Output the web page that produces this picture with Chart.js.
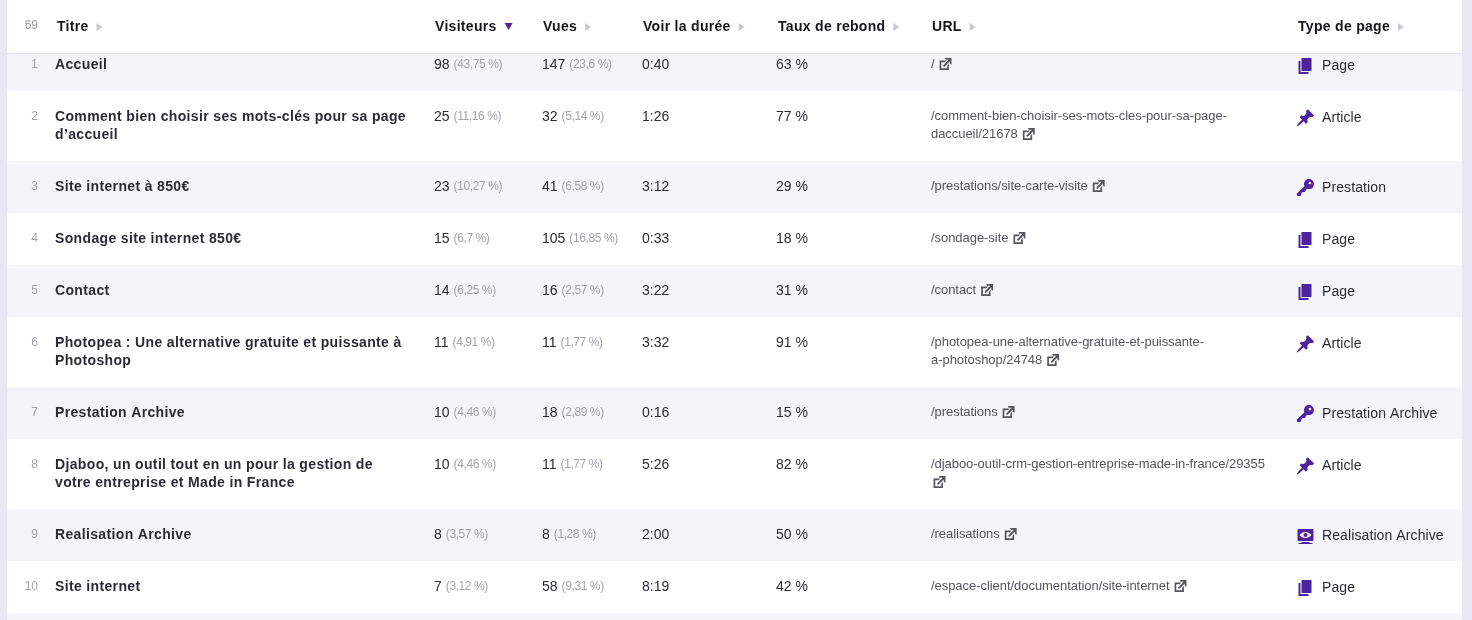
<!DOCTYPE html>
<html lang="fr"><head><meta charset="utf-8"><title>Pages</title>
<script src="https://cdn.jsdelivr.net/npm/chart.js@4"></script>
<style>html,body{margin:0;padding:0;background:#e9e7f3;overflow:hidden}canvas{display:block}</style>
</head><body><canvas id="c" width="1472" height="620"></canvas>
<script>
const totalRows = '69';
const headers = ['Titre','Visiteurs','Vues','Voir la durée','Taux de rebond','URL','Type de page'];
const titles = [['Accueil'],['Comment bien choisir ses mots-clés pour sa page','d’accueil'],['Site internet à 850€'],['Sondage site internet 850€'],['Contact'],['Photopea : Une alternative gratuite et puissante à','Photoshop'],['Prestation Archive'],['Djaboo, un outil tout en un pour la gestion de','votre entreprise et Made in France'],['Realisation Archive'],['Site internet']];
const visitors = [98,25,23,15,14,11,10,10,8,7];
const visitorsPct = ['43,75 %','11,16 %','10,27 %','6,7 %','6,25 %','4,91 %','4,46 %','4,46 %','3,57 %','3,12 %'];
const views = [147,32,41,105,16,11,18,11,8,58];
const viewsPct = ['23,6 %','5,14 %','6,58 %','16,85 %','2,57 %','1,77 %','2,89 %','1,77 %','1,28 %','9,31 %'];
const durations = ['0:40','1:26','3:12','0:33','3:22','3:32','0:16','5:26','2:00','8:19'];
const bounce = ['63 %','77 %','29 %','18 %','31 %','91 %','15 %','82 %','50 %','42 %'];
const urls = [['/'],['/comment-bien-choisir-ses-mots-cles-pour-sa-page-','daccueil/21678'],['/prestations/site-carte-visite'],['/sondage-site'],['/contact'],['/photopea-une-alternative-gratuite-et-puissante-','a-photoshop/24748'],['/prestations'],['/djaboo-outil-crm-gestion-entreprise-made-in-france/29355',''],['/realisations'],['/espace-client/documentation/site-internet']];
const types = ['Page','Article','Prestation','Page','Page','Article','Prestation Archive','Article','Realisation Archive','Page'];

const FONT = '"Liberation Sans", Arial, sans-serif';
const INK = '#2c2b35', GREY = '#a3a2ab', PURPLE = '#4e249e', ARROW = '#c9c9cf';
const ICONS = {
  'Page':'M6 15V2h10v13H6zm-1 1h8v2H3V5h2v11z',
  'Article':'M10.44 3.02l1.82-1.82 6.36 6.35-1.83 1.82c-1.05-.68-2.48-.57-3.41.36l-.75.75c-.92.93-1.04 2.35-.35 3.41l-1.83 1.82-2.41-2.41-2.8 2.79c-.42.42-3.38 2.71-3.8 2.29s1.86-3.39 2.28-3.81l2.79-2.79L4.1 9.36l1.83-1.82c1.05.69 2.48.57 3.4-.36l.75-.75c.93-.92 1.05-2.35.36-3.41z',
  'Prestation':'M16.95 2.58c1.96 1.95 1.96 5.12 0 7.07-1.51 1.51-3.75 1.84-5.59 1.01l-1.87 3.31-2.99.31L5 18H2l-1-2 7.95-7.69c-.92-1.87-.62-4.18.93-5.73 1.95-1.96 5.12-1.96 7.07 0zm-2.51 3.79c.74 0 1.33-.6 1.33-1.34 0-.73-.59-1.33-1.33-1.33-.73 0-1.33.6-1.33 1.33 0 .74.6 1.34 1.33 1.34z',
  'Realisation Archive':'M18 14V4c0-.55-.45-1-1-1H3c-.55 0-1 .45-1 1v10c0 .55.45 1 1 1h14c.55 0 1-.45 1-1zm-8-8c2.3 0 4.4 1.14 6 3-1.6 1.86-3.7 3-6 3s-4.4-1.14-6-3c1.6-1.86 3.7-3 6-3zm2 3c0-1.1-.9-2-2-2s-2 .9-2 2 .9 2 2 2 2-.9 2-2zm2 8h3v1H3v-1h3v-1h8v1z'
};
ICONS['Prestation Archive'] = ICONS['Prestation'];
const EXTERNAL = 'M9 3h8v8l-2-1V6.92l-6.6 6.6-1.42-1.42L13.6 5H10zm3 12v-3l2-2v7H3V6h8L9 8H5v7h7z';

// Row extents on the vertical layout scale, derived from how many text lines each row has
const firstTop = 39, lineH = 18, basePad = 34;
const rowSpans = [];
titles.reduce((top, t) => { const b = top + basePad + lineH * t.length; rowSpans.push([top, b]); return b; }, firstTop);
const trailing = [rowSpans[rowSpans.length-1][1], 640];

const bandDatasets = [];
rowSpans.forEach((s, i) => bandDatasets.push({label:'row'+(i+1), data:[s], backgroundColor: i % 2 ? '#ffffff' : '#f5f4fa', order: 10}));
bandDatasets.push({label:'next', data:[trailing], backgroundColor:'#f5f4fa', order:10});
bandDatasets.push({label:'header', data:[[0,53]], backgroundColor:'#ffffff', order:1});
bandDatasets.push({label:'rule', data:[[53,54]], backgroundColor:'#dcdae6', order:1});

const columns = {rank:38, title:55, vis:434, view:542, dur:642, bounce:776, url:931, icon:1295.5, type:1322};
const headerX = [57,435,543,643,778,932,1298];

function setText(ctx, font, color, ls){ ctx.font = font; ctx.fillStyle = color; ctx.letterSpacing = ls || '0px'; }
function icon(ctx, d, x, y, size, color){
  ctx.save(); ctx.translate(x, y); ctx.scale(size/20, size/20); ctx.fillStyle = color; ctx.fill(new Path2D(d)); ctx.restore();
}
const tablePlugin = {
  id:'tablePlugin',
  afterDatasetsDraw(chart){
    const ctx = chart.ctx, Y = chart.scales.y, X = chart.scales.col;
    const px = v => X.getPixelForValue(v), py = v => Y.getPixelForValue(v);
    ctx.save(); ctx.textBaseline = 'middle'; ctx.textAlign = 'left';
    // header
    setText(ctx,'12px '+FONT,'#9a9aa2'); ctx.textAlign='right'; ctx.fillText(totalRows, px(columns.rank), py(26)); ctx.textAlign='left';
    headers.forEach((h,i)=>{
      setText(ctx,'bold 14px '+FONT,'#16151c','0.3px');
      ctx.fillText(h, px(headerX[i]), py(27));
      const w = ctx.measureText(h).width, ax = px(headerX[i]) + w + 8, ay = py(27);
      ctx.fillStyle = i===1 ? PURPLE : ARROW;
      ctx.beginPath();
      if(i===1){ ctx.moveTo(ax,ay-4); ctx.lineTo(ax+8,ay-4); ctx.lineTo(ax+4,ay+3); }
      else { ctx.moveTo(ax,ay-4); ctx.lineTo(ax+6,ay); ctx.lineTo(ax,ay+4); }
      ctx.closePath(); ctx.fill();
    });
    // rows
    rowSpans.forEach((s,i)=>{
      const y = py(s[0]+26);
      setText(ctx,'12px '+FONT,GREY); ctx.textAlign='right'; ctx.fillText(String(i+1), px(columns.rank), y); ctx.textAlign='left';
      titles[i].forEach((line,k)=>{ setText(ctx,'bold 14px '+FONT,INK,'0.35px'); ctx.fillText(line, px(columns.title), y+k*lineH); });
      [[columns.vis,visitors[i],visitorsPct[i]],[columns.view,views[i],viewsPct[i]]].forEach(([cx,v,p])=>{
        setText(ctx,'14px '+FONT,INK,'0px'); const t=String(v); ctx.fillText(t, px(cx), y); const w=ctx.measureText(t).width;
        setText(ctx,'12px '+FONT,GREY,'-0.4px'); ctx.fillText('('+p+')', px(cx)+w+4, y);
      });
      setText(ctx,'14px '+FONT,INK,'0px');
      ctx.fillText(durations[i], px(columns.dur), y);
      ctx.fillText(bounce[i], px(columns.bounce), y);
      let last=0, lastW=0;
      urls[i].forEach((line,k)=>{ setText(ctx,'13px '+FONT,'#55545e','-0.05px'); ctx.fillText(line, px(columns.url), y+k*lineH-1); last=k; lastW=ctx.measureText(line).width; });
      icon(ctx, EXTERNAL, px(columns.url)+lastW+(lastW?2.5:0), y+last*lineH-9.5, 17, '#55545e');
      icon(ctx, ICONS[types[i]], px(columns.icon), y-9, 20, PURPLE);
      setText(ctx,'14px '+FONT,INK,'0.1px'); ctx.fillText(types[i], px(columns.type), y+1);
    });
    ctx.restore();
  }
};
new Chart(document.getElementById('c'),{
  type:'bar',
  data:{labels:['table'], datasets:bandDatasets},
  options:{
    responsive:false, animation:false, devicePixelRatio:1,
    layout:{padding:{left:7,right:10,top:0,bottom:0}},
    plugins:{legend:{display:false},tooltip:{enabled:false}},
    datasets:{bar:{grouped:false,barPercentage:1,categoryPercentage:1,borderWidth:0}},
    scales:{
      x:{display:false},
      col:{type:'linear',axis:'x',display:false,offset:false,min:7,max:1462},
      y:{display:false,reverse:true,min:0,max:620}
    }
  },
  plugins:[tablePlugin]
});
</script></body></html>
